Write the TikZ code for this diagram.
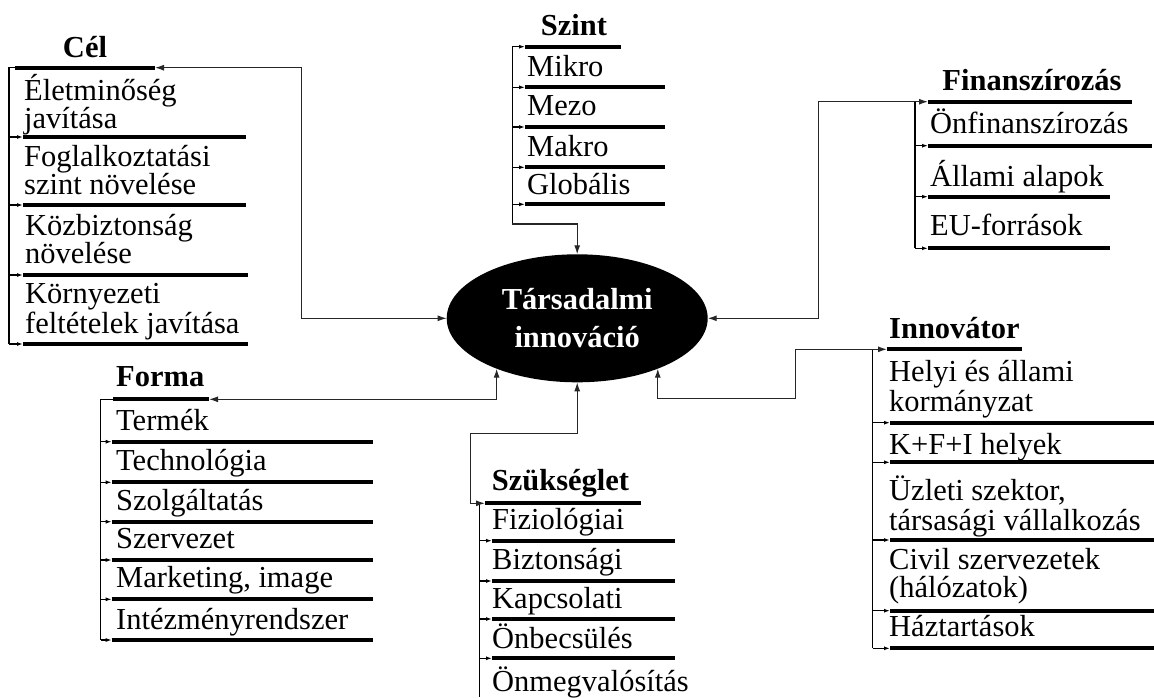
\documentclass[tikz,border=0pt]{standalone}
\usepackage{fontspec}
\setmainfont{Liberation Serif}
\usetikzlibrary{arrows.meta,shapes.geometric}
\tikzset{
  itemtxt/.style={anchor=base west, inner sep=0pt, align=left, font=\fontsize{30.5}{28}\selectfont},
  itemtxtw/.style={itemtxt, font=\fontsize{30.5}{30}\selectfont},
  headtxt/.style={inner sep=0pt, font=\bfseries\fontsize{30.5}{28}\selectfont},
  bar/.style={line width=4pt},
  brk/.style={line width=1.2pt},
  tick/.style={line width=1.2pt, arrows={-Latex[length=6pt,width=4pt]}},
  conn/.style={line width=1.2pt, black!85, arrows={Latex[length=9pt,width=6pt]-Latex[length=9pt,width=6pt]}},
  connone/.style={line width=1.2pt, black!85, arrows={-Latex[length=9pt,width=6pt]}},
}
\begin{document}
\begin{tikzpicture}[x=1pt,y=-1pt]
\useasboundingbox (0,0) rectangle (1154,697);

% central ellipse
\node[ellipse, fill=black, minimum width=261pt, minimum height=128pt, inner sep=0pt, outer sep=0pt,
      text=white, align=center, font=\bfseries\fontsize{30.5}{37.6}\selectfont] (ell) at (577.2,318.3) {Társadalmi\\innováció};

% ---------------- Cél ----------------
\node[headtxt, anchor=base] (celt) at (85,57) {Cél};
\coordinate (celhdr) at (155,67.7);
\coordinate (celc) at (301.7,67.7);
\draw[bar] (15,67.7) -- (celhdr);
\draw[brk] (15,67.7) -- (9,67.7) -- (9,344);
\foreach \y/\e in {137/246,205/246,275/248,344/248}{
  \draw[bar] (23,\y) -- (\e,\y);
  \draw[tick] (9,\y) -- (23,\y);
}
\node[itemtxt] (c1) at (24,128.3) {Életminőség\\javítása};
\node[itemtxt] (c2) at (24,194.3) {Foglalkoztatási\\szint növelése};
\node[itemtxt] (c3) at (25,263) {Közbiztonság\\növelése};
\node[itemtxt] (c4) at (25,333) {Környezeti\\feltételek javítása};
\draw[conn] (celhdr) -- (celc) |- (ell.west);

% ---------------- Szint ----------------
\node[headtxt, anchor=base] (szt) at (574,35) {Szint};
\draw[bar] (525,46.7) -- (621,46.7);
\coordinate (szb) at (512.3,224);
\draw[brk] (512.3,46.7) -- (szb);
\draw[tick] (512.3,46.7) -- (525,46.7);
\foreach \y in {87.3,127,167.3,204.3}{
  \draw[bar] (525,\y) -- (665,\y);
  \draw[tick] (512.3,\y) -- (525,\y);
}
\node[itemtxt] (s1) at (527,76) {Mikro};
\node[itemtxt] (s2) at (527,115.5) {Mezo};
\node[itemtxt] (s3) at (527,156.5) {Makro};
\node[itemtxt] (s4) at (527,194) {Globális};
\draw[connone] (szb) -| (ell.north);

% ---------------- Finanszírozás ----------------
\node[headtxt, anchor=base] (fint) at (1032,90) {Finanszírozás};
\coordinate (finhdr) at (928,101.7);
\coordinate (fc) at (818.3,101.7);
\draw[bar] (finhdr) -- (1131.7,101.7);
\draw[brk] (915,101.7) -- (915,248.3);
\foreach \y/\e in {145.7/1151.7,196.7/1110,248.3/1110}{
  \draw[bar] (928,\y) -- (\e,\y);
  \draw[tick] (915,\y) -- (928,\y);
}
\node[itemtxt] (f1) at (930,133) {Önfinanszírozás};
\node[itemtxt] (f2) at (930,186.7) {Állami alapok};
\node[itemtxt] (f3) at (930,235) {EU-források};
\draw[conn] (ell.east) -| (fc) -- (finhdr);

% ---------------- Forma ----------------
\node[headtxt, anchor=base west] (fot) at (116,386.7) {Forma};
\coordinate (formahdr) at (209,399.3);
\draw[bar] (113,399.3) -- (formahdr);
\draw[brk] (113,399.3) -- (100.7,399.3) -- (100.7,640);
\foreach \y in {441.7,482.3,521.7,560,599.3,640}{
  \draw[bar] (111.7,\y) -- (373.3,\y);
  \draw[tick] (100.7,\y) -- (111.7,\y);
}
\node[itemtxt] (o1) at (116,430) {Termék};
\node[itemtxt] (o2) at (116,470) {Technológia};
\node[itemtxt] (o3) at (116,510.7) {Szolgáltatás};
\node[itemtxt] (o4) at (116,548.3) {Szervezet};
\node[itemtxt] (o5) at (116,587.7) {Marketing, image};
\node[itemtxt] (o6) at (116,629.3) {Intézményrendszer};
\draw[conn] (formahdr) -| (ell.212.87);

% ---------------- Szükséglet ----------------
\node[headtxt, anchor=base west] (skt) at (491.7,490) {Szükséglet};
\coordinate (szkhdr) at (485,503.3);
\coordinate (sc) at (470.7,433.3);
\draw[bar] (szkhdr) -- (641,503.3);
\draw[brk] (479.3,503.3) -- (479.3,697);
\foreach \y in {540.7,581,619,658.3}{
  \draw[bar] (492,\y) -- (675,\y);
  \draw[tick] (479.3,\y) -- (492,\y);
}
\node[itemtxt] (k1) at (492,529.3) {Fiziológiai};
\node[itemtxt] (k2) at (492,569.3) {Biztonsági};
\node[itemtxt] (k3) at (492,608.3) {Kapcsolati};
\node[itemtxt] (k4) at (492,648.3) {Önbecsülés};
\node[itemtxt] (k5) at (492,691) {Önmegvalósítás};
\draw[conn] (ell.south) |- (sc) |- (szkhdr);

% ---------------- Innovátor ----------------
\node[headtxt, anchor=base west] (int) at (889,338) {Innovátor};
\coordinate (innhdr) at (887,349.3);
\coordinate (ic) at (795.7,398.3);
\draw[bar] (innhdr) -- (1021.7,349.3);
\draw[brk] (872.7,349.3) -- (872.7,648.3);
\foreach \y in {422.7,462.3,540,610.7,648.3}{
  \draw[bar] (890,\y) -- (1154,\y);
  \draw[tick] (872.7,\y) -- (890,\y);
}
\node[itemtxtw] (i1) at (889,411.7) {Helyi és állami\\kormányzat};
\node[itemtxt] (i2) at (889,454) {K+F+I helyek};
\node[itemtxtw] (i3) at (889,530) {Üzleti szektor,\\társasági vállalkozás};
\node[itemtxt] (i4) at (889,597.7) {Civil szervezetek\\(hálózatok)};
\node[itemtxt] (i5) at (889,636.7) {Háztartások};
\draw[conn] (ell.328.3) |- (ic) |- (innhdr);
\end{tikzpicture}
\end{document}
